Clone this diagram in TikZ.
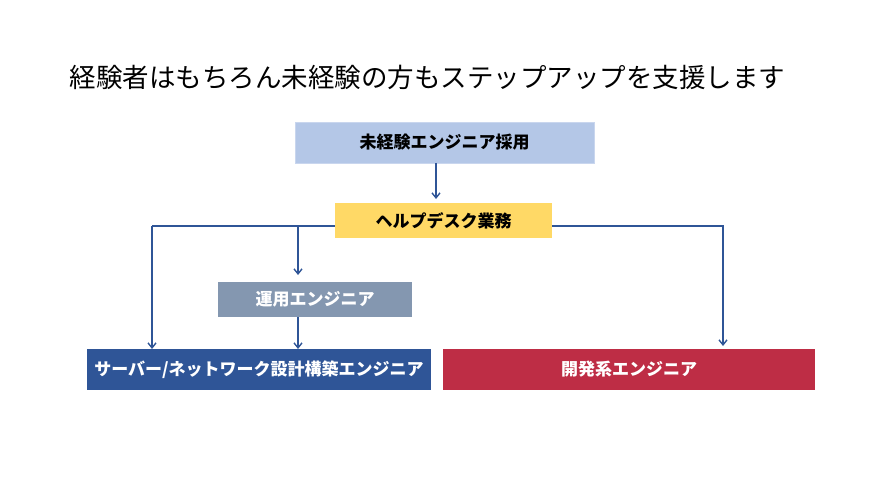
\documentclass[tikz,border=0pt]{standalone}
\usepackage{fontspec}
\setmainfont{Noto Sans CJK JP}
\usetikzlibrary{arrows.meta}
\definecolor{topblue}{HTML}{B4C7E7}
\definecolor{topedge}{HTML}{C9D6EE}
\definecolor{helpy}{HTML}{FFD966}
\definecolor{opsgray}{HTML}{8497B0}
\definecolor{srvblue}{HTML}{2F5597}
\definecolor{devred}{HTML}{BE2D45}
\definecolor{linec}{HTML}{2F5597}
\tikzset{
  box/.style={draw=none, minimum height=#1, inner sep=0pt, font=\fontsize{17}{20}\selectfont\bfseries},
  conn/.style={draw=linec, line width=1.6pt, -{Straight Barb[length=5pt,width=8pt,line width=1.4pt]}},
  plain/.style={draw=linec, line width=1.6pt},
}
\begin{document}
\begin{tikzpicture}[x=1pt,y=-1pt]
\useasboundingbox (0,0) rectangle (889,500);
\fill[white] (0,0) rectangle (889,500);
\node[font=\fontsize{26.5}{30}\selectfont, anchor=west] (title) at (66,77) {経験者はもちろん未経験の方もステップアップを支援します};
\node[box=41pt, minimum width=299pt, fill=topblue, draw=topedge, line width=0.8pt] (top) at (444.5,142.5) {未経験エンジニア採用};
\node[box=35pt, minimum width=217pt, fill=helpy] (help) at (443.5,220.5) {ヘルプデスク業務};
\node[box=35pt, minimum width=194pt, fill=opsgray, text=white] (ops) at (315,299.5) {運用エンジニア};
\node[box=41pt, minimum width=344pt, fill=srvblue, text=white] (srv) at (259,369.5) {サーバー/ネットワーク設計構築エンジニア};
\node[box=41pt, minimum width=372pt, fill=devred, text=white] (dev) at (629,369.5) {開発系エンジニア};
\coordinate (hl) at (help.west |- 0,226);
\coordinate (hr) at (help.east |- 0,226);
\coordinate (lc) at (152,226);
\coordinate (rc) at (723,226);
\coordinate (br) at (298,226);
\coordinate (srvtop) at (152,349);
\coordinate (opstop) at (298,275);
\coordinate (devtop) at (723,346);
\coordinate (srvtop2) at (298,349);
\draw[conn] (436,163) coordinate (ta) -- (436,199);
\draw[plain] (hl) -- (lc);
\draw[conn] (lc) -- (srvtop);
\draw[conn] (br) -- (opstop);
\draw[conn] (hr) -- (rc) -- (devtop);
\draw[conn] (ops.south -| 298,0) -- (srvtop2);
\end{tikzpicture}
\end{document}
